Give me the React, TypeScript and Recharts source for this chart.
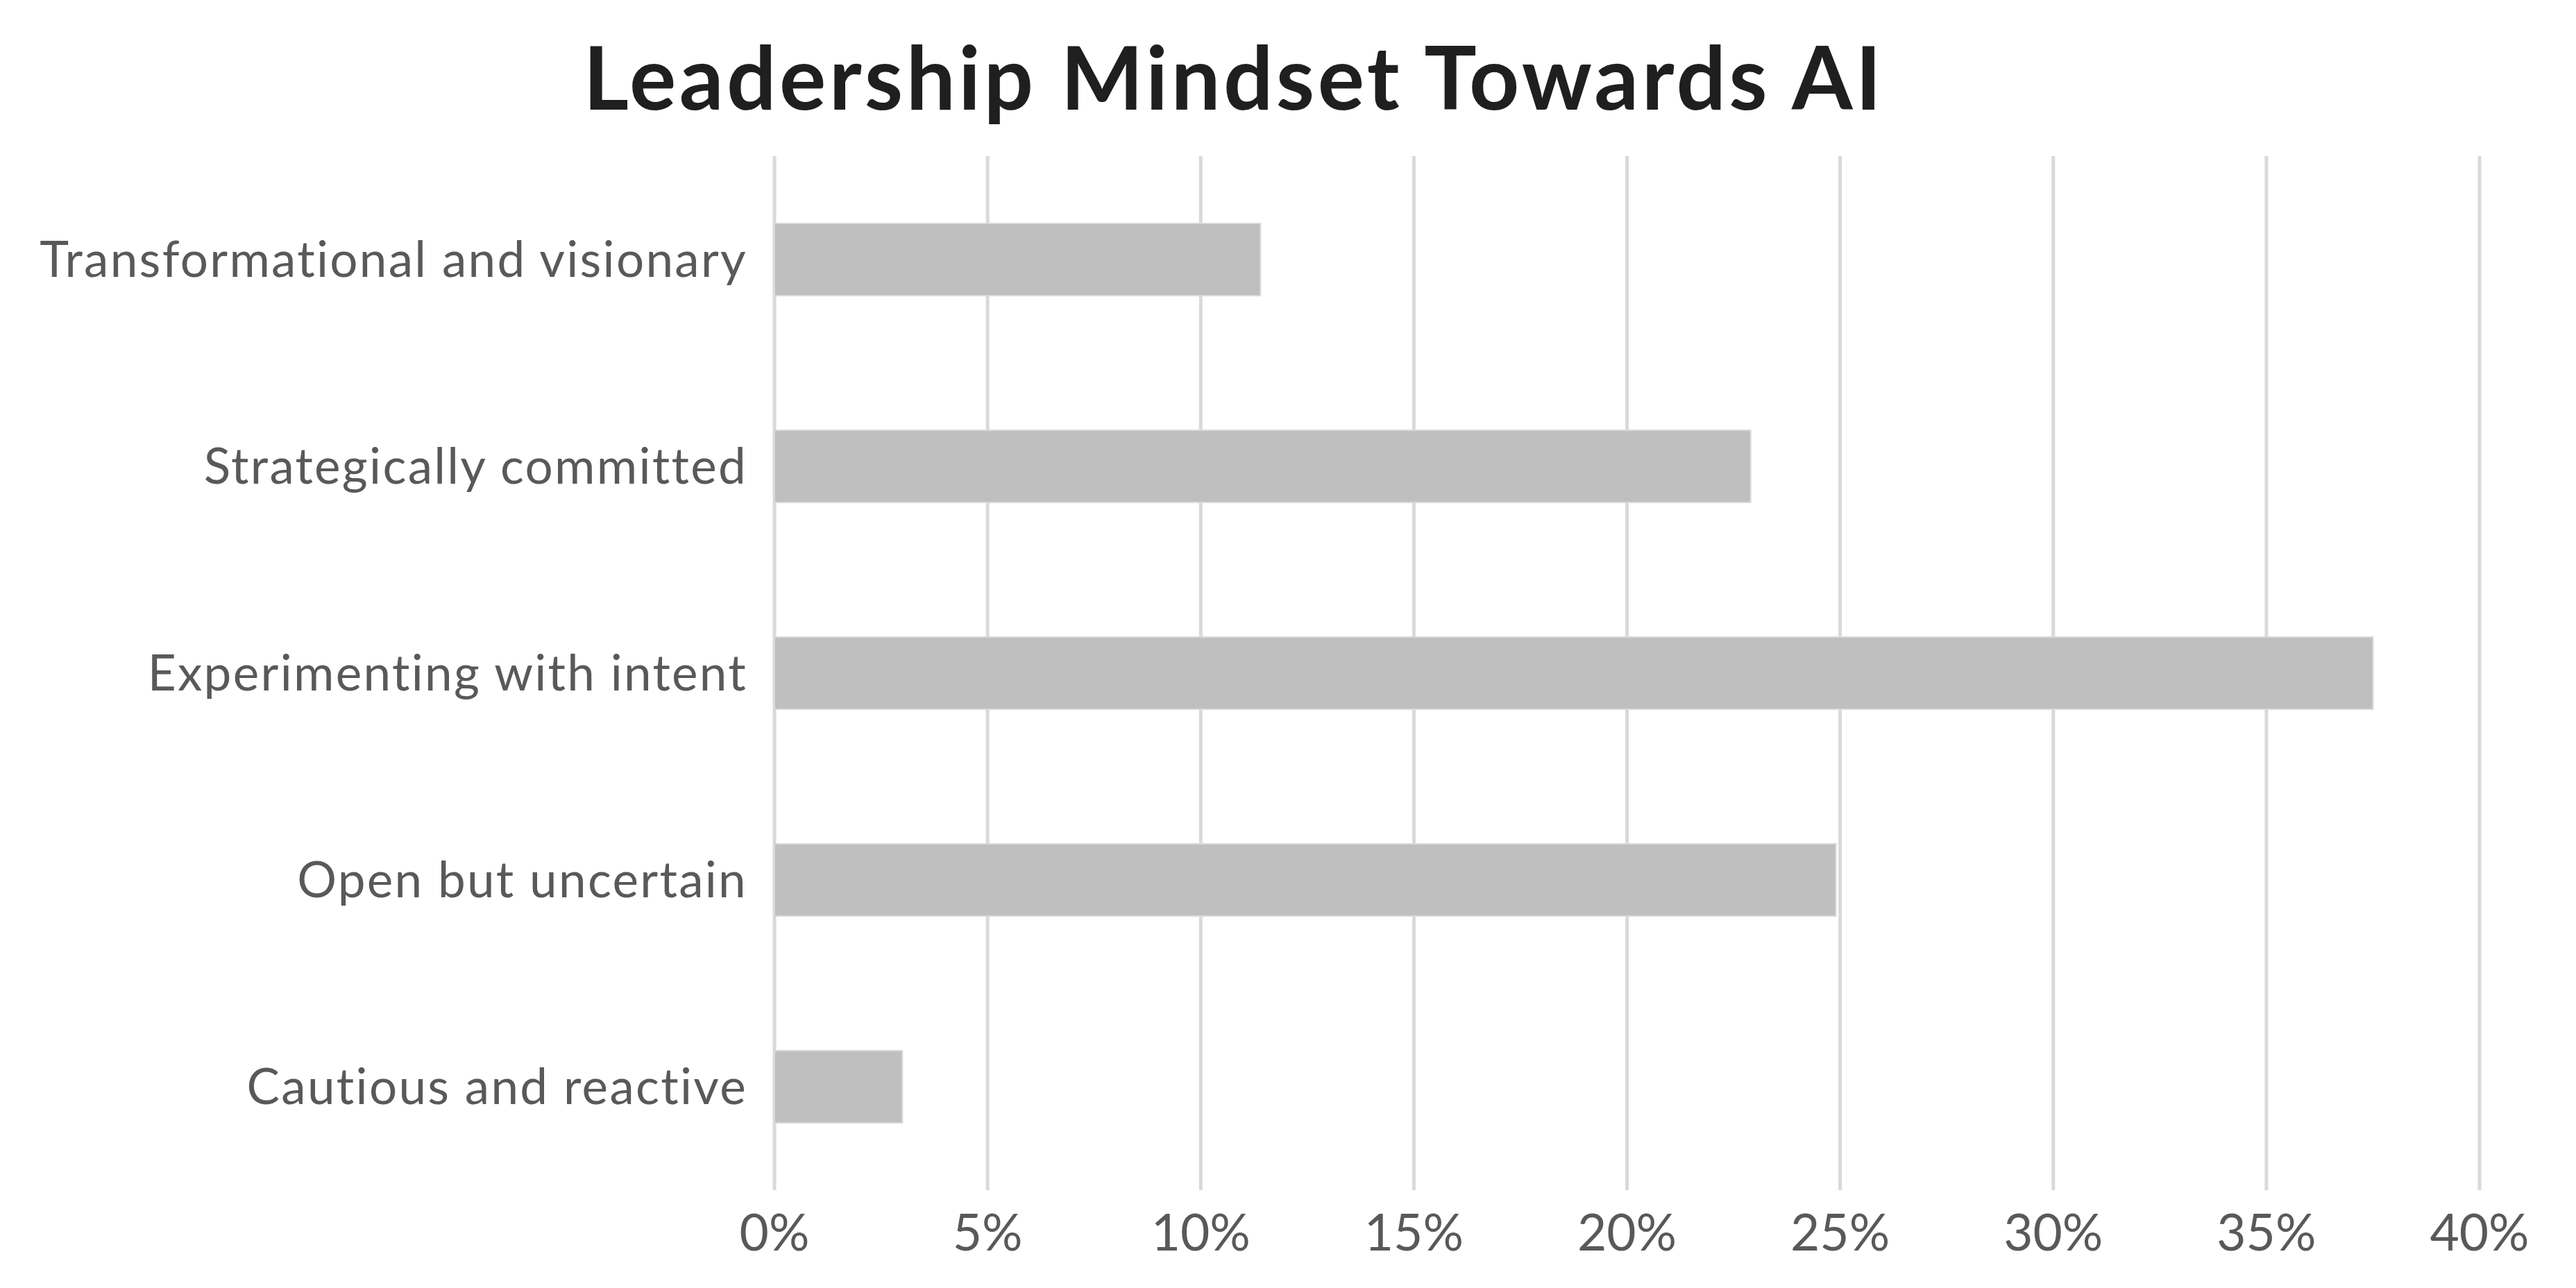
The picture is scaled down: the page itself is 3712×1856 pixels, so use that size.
import { BarChart, Bar, XAxis, YAxis, CartesianGrid } from "recharts";

const categories = [
  "Transformational and visionary",
  "Strategically committed",
  "Experimenting with intent",
  "Open but uncertain",
  "Cautious and reactive",
];
const shares = [11.4, 22.9, 37.5, 24.9, 3.0];
const xTicks = [0, 5, 10, 15, 20, 25, 30, 35, 40];

const data = categories.map((name, i) => ({ name, value: shares[i] }));

const W = 3712;
const H = 1856;

export default function App() {
  return (
    <div style={{ position: "absolute", left: 0, top: 0, width: W, height: H, background: "#fff" }}>
      <BarChart
        width={W}
        height={H}
        data={data}
        layout="vertical"
        margin={{ top: 225, right: 139, bottom: 0, left: 0 }}
      >
        <CartesianGrid horizontal={false} stroke="#d9d9d9" strokeWidth={5} />
        <XAxis
          type="number"
          domain={[0, 40]}
          ticks={xTicks}
          tickFormatter={(v: number) => `${v}%`}
          axisLine={false}
          tickLine={false}
          height={141}
          tickMargin={29}
          tick={{ fontSize: 73, fill: "#595959", fontFamily: "Lato" }}
        />
        <YAxis
          type="category"
          dataKey="name"
          width={1116}
          axisLine={false}
          tickLine={false}
          tickMargin={33}
          tick={{ fontSize: 71, fill: "#595959", fontFamily: "Lato", letterSpacing: 2.3 }}
        />
        <Bar
          dataKey="value"
          fill="#bfbfbf"
          stroke="#d9d9d9"
          strokeWidth={2}
          barSize={104}
          isAnimationActive={false}
        />
      </BarChart>
      <svg width={W} height={220} style={{ position: "absolute", left: 0, top: 0 }}>
        <text
          x={1778}
          y={158}
          textAnchor="middle"
          fontFamily="Lato"
          fontWeight={700}
          fontSize={126}
          letterSpacing={4.4}
          fill="#1f1f1f"
        >
          Leadership Mindset Towards AI
        </text>
      </svg>
    </div>
  );
}
